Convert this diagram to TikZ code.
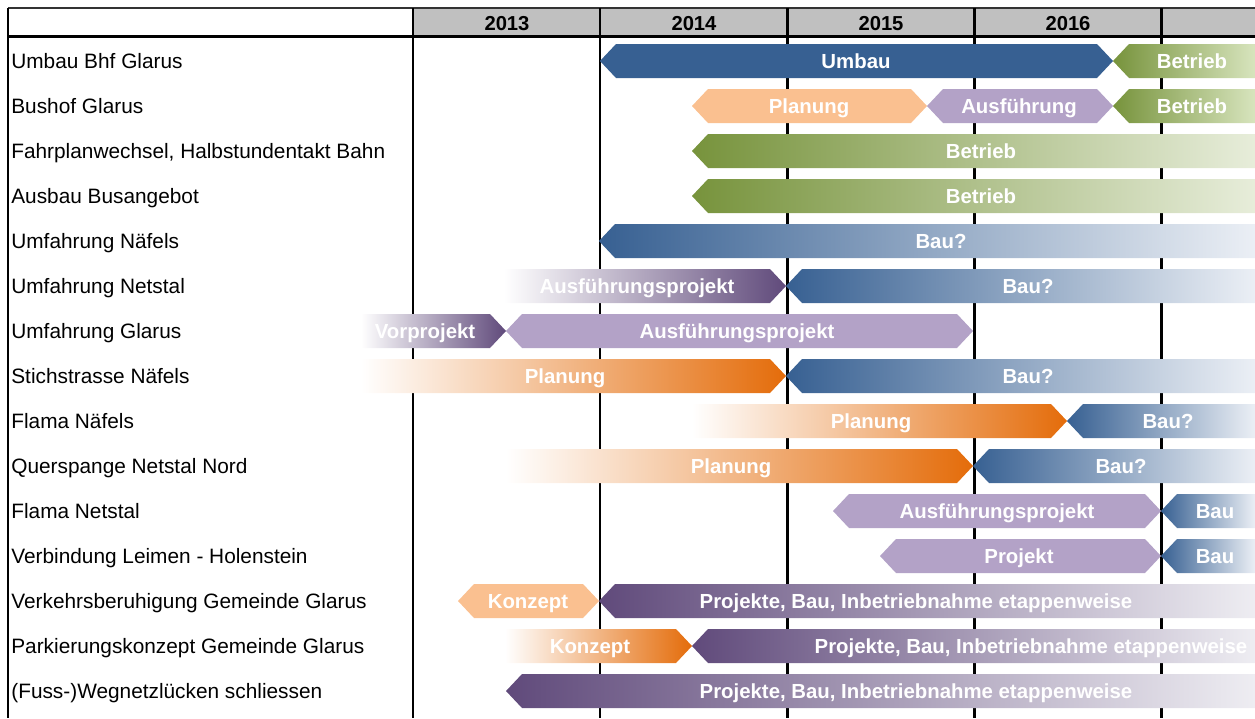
\documentclass[tikz,border=0pt]{standalone}
\usepackage{fontspec}
\setmainfont{Liberation Sans}

\definecolor{ubblue}{HTML}{376092}
\definecolor{ubbluel}{HTML}{EBEFF5}
\definecolor{ubgreen}{HTML}{77933C}
\definecolor{ubgreenl}{HTML}{D7E4BD}
\definecolor{ubgreenll}{HTML}{E7EDDA}
\definecolor{ubpeach}{HTML}{FAC090}
\definecolor{uborange}{HTML}{E46C0A}
\definecolor{ublav}{HTML}{B3A2C7}
\definecolor{ubpurple}{HTML}{604A7B}
\definecolor{ubpurplel}{HTML}{EEEDF2}
\definecolor{ubgrey}{HTML}{C0C0C0}

\tikzset{
  task/.style={anchor=west,inner sep=0pt,font=\fontsize{11.85}{13}\selectfont,text height=8.4pt,text depth=0pt},
  year/.style={inner sep=0pt,font=\fontsize{11.5}{13}\selectfont\bfseries,text height=8.2pt,text depth=0pt},
  label/.style={inner sep=0pt,text=white,font=\fontsize{11.6}{13}\selectfont\bfseries,text height=8.2pt,text depth=0pt},
  gridline/.style={line width=1.7pt},
  umbau/.style={fill=ubblue},
  bau/.style={left color=ubblue,right color=ubbluel},
  betrieb/.style={left color=ubgreen,right color=ubgreenl},
  betrieblong/.style={left color=ubgreen,right color=ubgreenll},
  planung/.style={fill=ubpeach},
  ausf/.style={fill=ublav},
  orangefade/.style={left color=white,right color=uborange},
  purplefade/.style={left color=white,right color=ubpurple},
  etappen/.style={left color=ubpurple,right color=ubpurplel},
}

% bar: #1 style, #2 row, #3 left end, #4 left tip, #5 right end, #6 right tip
\newcommand{\ganttbar}[6]{%
  \path[#1] (#3,#2) -- (#3+#4,#2-17) -- (#5-#6,#2-17) -- (#5,#2)
    -- (#5-#6,#2+17) -- (#3+#4,#2+17) -- cycle;}

\begin{document}
\begin{tikzpicture}[x=0.02cm,y=-0.02cm,font=\fontsize{11.5}{13}\selectfont]
  \useasboundingbox (0,0) rectangle (1255,718);

  % header
  \fill[ubgrey] (413,9) rectangle (1255,35);
  \draw[line width=1.1pt,black!80] (8,8) -- (1255,8);
  \draw[line width=1.7pt] (8,36) -- (1255,36);
  \draw[gridline] (8,8) -- (8,718);
  \draw[gridline] (413,8) -- (413,718);
  \draw[gridline] (600,8) -- (600,718);
  \draw[gridline] (787,8) -- (787,718);
  \draw[gridline] (974,8) -- (974,718);
  \draw[gridline] (1161,8) -- (1161,718);
  \node[year] (y2013) at (507,23) {2013};
  \node[year] (y2014) at (694,23) {2014};
  \node[year] (y2015) at (881,23) {2015};
  \node[year] (y2016) at (1068,23) {2016};

  % task names
  \node[task] (r1) at (11,61) {Umbau Bhf Glarus};
  \node[task] (r2) at (11,106) {Bushof Glarus};
  \node[task] (r3) at (11,151) {Fahrplanwechsel, Halbstundentakt Bahn};
  \node[task] (r4) at (11,196) {Ausbau Busangebot};
  \node[task] (r5) at (11,241) {Umfahrung Näfels};
  \node[task] (r6) at (11,286) {Umfahrung Netstal};
  \node[task] (r7) at (11,331) {Umfahrung Glarus};
  \node[task] (r8) at (11,376) {Stichstrasse Näfels};
  \node[task] (r9) at (11,421) {Flama Näfels};
  \node[task] (r10) at (11,466) {Querspange Netstal Nord};
  \node[task] (r11) at (11,511) {Flama Netstal};
  \node[task] (r12) at (11,556) {Verbindung Leimen - Holenstein};
  \node[task] (r13) at (11,601) {Verkehrsberuhigung Gemeinde Glarus};
  \node[task] (r14) at (11,646) {Parkierungskonzept Gemeinde Glarus};
  \node[task] (r15) at (11,691) {(Fuss-)Wegnetzlücken schliessen};

  % bars
  \ganttbar{umbau}{61}{600}{16}{1113}{16}
  \ganttbar{betrieb}{61}{1113}{16}{1255}{0}
  \ganttbar{planung}{106}{692}{16}{927}{16}
  \ganttbar{ausf}{106}{927}{16}{1113}{16}
  \ganttbar{betrieb}{106}{1113}{16}{1255}{0}
  \ganttbar{betrieblong}{151}{692}{16}{1255}{0}
  \ganttbar{betrieblong}{196}{692}{16}{1255}{0}
  \ganttbar{bau}{241}{599}{16}{1255}{0}
  \ganttbar{purplefade}{286}{504}{0}{786}{16}
  \ganttbar{bau}{286}{786}{16}{1255}{0}
  \ganttbar{purplefade}{331}{361}{0}{506}{16}
  \ganttbar{ausf}{331}{506}{16}{973}{16}
  \ganttbar{orangefade}{376}{361}{0}{786}{16}
  \ganttbar{bau}{376}{786}{16}{1255}{0}
  \ganttbar{orangefade}{421}{692}{0}{1067}{16}
  \ganttbar{bau}{421}{1067}{16}{1255}{0}
  \ganttbar{orangefade}{466}{506}{0}{973}{16}
  \ganttbar{bau}{466}{973}{16}{1255}{0}
  \ganttbar{ausf}{511}{833}{16}{1161}{16}
  \ganttbar{bau}{511}{1161}{16}{1255}{0}
  \ganttbar{ausf}{556}{880}{16}{1161}{16}
  \ganttbar{bau}{556}{1161}{16}{1255}{0}
  \ganttbar{planung}{601}{458}{16}{599}{16}
  \ganttbar{etappen}{601}{599}{16}{1255}{0}
  \ganttbar{orangefade}{646}{505}{0}{692}{16}
  \ganttbar{etappen}{646}{692}{16}{1255}{0}
  \ganttbar{etappen}{691}{506}{16}{1255}{0}

  % bar labels
  \node[label] (l1a) at (856,61) {Umbau};
  \node[label] (l1b) at (1192,61) {Betrieb};
  \node[label] (l2a) at (809,106) {Planung};
  \node[label] (l2b) at (1019,106) {Ausführung};
  \node[label] (l2c) at (1192,106) {Betrieb};
  \node[label] (l3a) at (981,151) {Betrieb};
  \node[label] (l4a) at (981,196) {Betrieb};
  \node[label] (l5a) at (941,241) {Bau?};
  \node[label] (l6a) at (637,286) {Ausführungsprojekt};
  \node[label] (l6b) at (1028,286) {Bau?};
  \node[label] (l7a) at (425,331) {Vorprojekt};
  \node[label] (l7b) at (737,331) {Ausführungsprojekt};
  \node[label] (l8a) at (565,376) {Planung};
  \node[label] (l8b) at (1028,376) {Bau?};
  \node[label] (l9a) at (871,421) {Planung};
  \node[label] (l9b) at (1168,421) {Bau?};
  \node[label] (l10a) at (731,466) {Planung};
  \node[label] (l10b) at (1121,466) {Bau?};
  \node[label] (l11a) at (997,511) {Ausführungsprojekt};
  \node[label] (l11b) at (1215,511) {Bau};
  \node[label] (l12a) at (1019,556) {Projekt};
  \node[label] (l12b) at (1215,556) {Bau};
  \node[label] (l13a) at (528,601) {Konzept};
  \node[label] (l13b) at (916,601) {Projekte, Bau, Inbetriebnahme etappenweise};
  \node[label] (l14a) at (590,646) {Konzept};
  \node[label] (l14b) at (1031,646) {Projekte, Bau, Inbetriebnahme etappenweise};
  \node[label] (l15a) at (916,691) {Projekte, Bau, Inbetriebnahme etappenweise};
\end{tikzpicture}
\end{document}
